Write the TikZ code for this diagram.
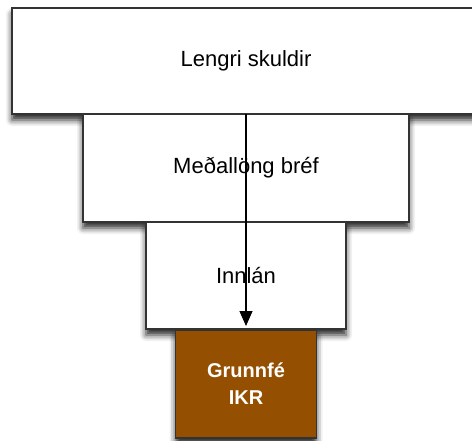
\documentclass[tikz,border=0pt]{standalone}
\usepackage{fontspec}
\setmainfont{Liberation Sans}
\usetikzlibrary{positioning}
\usetikzlibrary{arrows.meta}
\usetikzlibrary{shadows.blur}
\usepackage{xcolor}
\definecolor{grunnbrown}{RGB}{148,80,0}

\tikzset{
  tier/.style={draw=black!80, line width=1.5pt, fill=white, inner sep=0pt, outer sep=0pt,
    font=\fontsize{22}{26}\selectfont,
    blur shadow={shadow xshift=0pt, shadow yshift=-6pt, shadow blur radius=6pt, shadow opacity=85}},
  core/.style={tier, fill=grunnbrown, text=white, align=center,
    font=\bfseries\fontsize{20}{27}\selectfont}
}

\begin{document}
\begin{tikzpicture}
\useasboundingbox[clip] (0pt,0pt) rectangle (472pt,-440pt);

\node[tier, minimum width=468pt, minimum height=106pt](lengri) at (246pt,-61pt){Lengri skuldir};
\node[tier, below=0pt of lengri, minimum width=326pt, minimum height=108pt](medal){Me\dh all\"ong br\'ef};
\node[tier, below=0pt of medal, minimum width=200pt, minimum height=107pt](innlan){Innl\'an};
\node[core, below=1pt of innlan, minimum width=141pt, minimum height=108pt](grunn){Grunnf\'e\\IKR};

\draw[line width=1.2pt, -{Triangle[width=13pt,length=15pt]}] (lengri.south) -- ([yshift=3pt]innlan.south);

\end{tikzpicture}
\end{document}
